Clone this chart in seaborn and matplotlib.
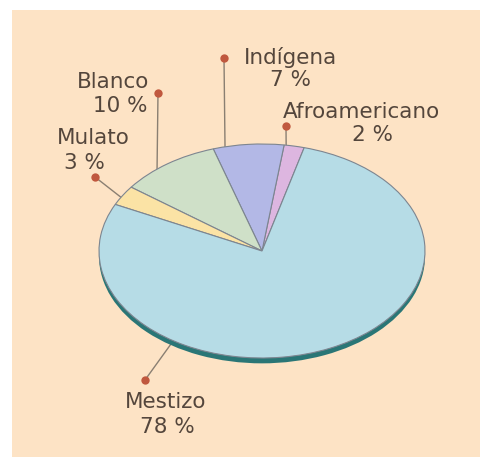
import seaborn as sns
import matplotlib.pyplot as plt
from matplotlib.patches import Rectangle
import numpy as np

# data
groups = ['Afroamericano', 'Indígena', 'Blanco', 'Mulato', 'Mestizo']
shares = [2, 7, 10, 3, 78]
labels = ['2 %', '7 %', '10 %', '3 %', '78 %']
colors = ['#ddb6e0', '#b3b8e6', '#cfe0c8', '#fbe3a5', '#b6dce6']

sns.set_theme(style='white')
plt.rcParams['font.family'] = ['DejaVu Sans']

W, H = 495, 457
fig = plt.figure(figsize=(W / 100, H / 100), dpi=100)
fig.patch.set_facecolor('white')

# overlay axes in pixel coords (origin top-left)
ax_over = fig.add_axes([0, 0, 1, 1], zorder=0)
ax_over.set_xlim(0, W)
ax_over.set_ylim(H, 0)
ax_over.axis('off')
ax_over.add_patch(Rectangle((12, 10), 468, 447, facecolor='#fde3c5', edgecolor='none'))

# pie axes, squashed so the pie looks like an ellipse
cx, cy, rx, ry = 262, 251, 163, 107
pad = 1.1
ax_pie = fig.add_axes([(cx - rx * pad) / W, (H - cy - ry * pad) / H,
                       2 * rx * pad / W, 2 * ry * pad / H], zorder=1)

# dark rim underneath
ax_pie.pie([1], colors=['#2a7676'], radius=1.0, center=(0, -0.05),
           wedgeprops=dict(linewidth=0))
wedges, _ = ax_pie.pie(shares, colors=colors, startangle=75, counterclock=True,
                       radius=1.0, center=(0, 0),
                       wedgeprops=dict(edgecolor='#7d8590', linewidth=0.8))
ax_pie.set_aspect('auto')
ax_pie.set_xlim(-pad, pad)
ax_pie.set_ylim(-pad, pad)
ax_pie.axis('off')
ax_pie.patch.set_alpha(0)

# label layout: anchor fraction within wedge, dot, name pos, value pos
anchor_frac = [0.9, 0.83, 0.63, 0.6, 0.295]
dots = [(286, 126), (224, 58), (158, 93), (95, 177), (145, 380)]
name_pos = [(361, 112), (290, 57), (113, 82), (93, 138), (166, 402)]
value_pos = [(372, 135), (290, 80), (120, 106), (84, 163), (167, 427)]

txt_color = '#54463c'
for w, f, d, npos, vpos, g, lab in zip(wedges, anchor_frac, dots, name_pos,
                                         value_pos, groups, labels):
    th = np.deg2rad(w.theta1 + f * (w.theta2 - w.theta1))
    disp = ax_pie.transData.transform((np.cos(th), np.sin(th)))
    ax_, ay_ = ax_over.transData.inverted().transform(disp)
    ax_over.plot([d[0], ax_], [d[1], ay_], color='#8a7f72', lw=1.0)
    ax_over.plot(d[0], d[1], 'o', color='#c0583e', ms=6, mec='none')
    ax_over.text(npos[0], npos[1], g, ha='center', va='center', fontsize=15.5, color=txt_color)
    ax_over.text(vpos[0], vpos[1], lab, ha='center', va='center', fontsize=15.5, color=txt_color)

fig.savefig('out.png', dpi=100)
